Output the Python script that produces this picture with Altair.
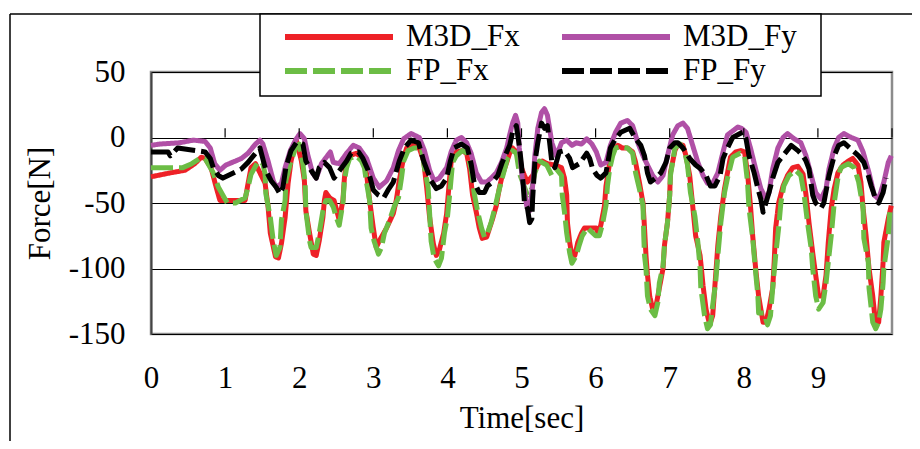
import altair as alt
import pandas as pd

# ---- data (time [sec], force [N]) ----
m3d_fx = [(0.00,-30),(0.26,-27),(0.46,-25),(0.59,-20),(0.68,-15),(0.73,-16),(0.81,-23),(0.88,-38),(0.93,-48),(1.11,-48),(1.27,-48),(1.31,-35),(1.35,-23),(1.41,-20),(1.54,-35),(1.58,-53),(1.61,-73),(1.68,-91),(1.72,-92),(1.76,-81),(1.81,-61),(1.85,-35),(1.89,-18),(1.96,-2),(2.03,-18),(2.07,-33),(2.09,-56),(2.14,-73),(2.19,-89),(2.23,-90),(2.27,-79),(2.32,-61),(2.34,-48),(2.36,-42),(2.41,-46),(2.47,-48),(2.54,-63),(2.59,-48),(2.61,-31),(2.64,-18),(2.68,-14),(2.77,-12),(2.86,-16),(2.91,-28),(2.95,-48),(3.00,-69),(3.04,-84),(3.08,-79),(3.18,-69),(3.27,-58),(3.31,-48),(3.35,-33),(3.41,-15),(3.45,-8),(3.54,-6),(3.62,-8),(3.68,-18),(3.72,-38),(3.76,-61),(3.81,-81),(3.85,-90),(3.89,-86),(3.95,-73),(3.99,-58),(4.03,-31),(4.05,-19),(4.12,-11),(4.19,-10),(4.26,-12),(4.30,-24),(4.34,-44),(4.39,-57),(4.43,-69),(4.47,-77),(4.53,-76),(4.57,-69),(4.61,-62),(4.66,-52),(4.70,-39),(4.74,-29),(4.80,-19),(4.84,-12),(4.88,-8),(4.93,-11),(4.97,-19),(5.04,-29),(5.08,-34),(5.15,-29),(5.24,-19),(5.28,-18),(5.35,-20),(5.45,-21),(5.54,-23),(5.58,-31),(5.61,-44),(5.62,-65),(5.65,-80),(5.68,-90),(5.72,-90),(5.76,-80),(5.81,-73),(5.85,-69),(5.95,-69),(6.01,-69),(6.03,-73),(6.07,-67),(6.12,-52),(6.14,-37),(6.19,-19),(6.23,-10),(6.30,-6),(6.36,-8),(6.43,-8),(6.50,-11),(6.54,-19),(6.59,-34),(6.64,-50),(6.66,-69),(6.68,-90),(6.70,-105),(6.73,-121),(6.77,-131),(6.81,-130),(6.86,-115),(6.91,-100),(6.93,-82),(6.97,-65),(7.00,-44),(7.01,-27),(7.07,-10),(7.11,-5),(7.18,-6),(7.22,-14),(7.27,-29),(7.31,-52),(7.35,-75),(7.41,-90),(7.45,-113),(7.49,-131),(7.54,-143),(7.58,-136),(7.61,-113),(7.65,-82),(7.69,-60),(7.74,-39),(7.78,-27),(7.82,-15),(7.89,-11),(7.96,-10),(8.01,-11),(8.05,-27),(8.09,-52),(8.12,-75),(8.16,-100),(8.20,-121),(8.26,-141),(8.30,-141),(8.34,-131),(8.39,-115),(8.41,-95),(8.43,-69),(8.47,-50),(8.53,-37),(8.59,-29),(8.66,-23),(8.73,-22),(8.80,-28),(8.84,-44),(8.88,-65),(8.93,-88),(8.97,-105),(9.01,-121),(9.07,-121),(9.11,-105),(9.14,-80),(9.18,-54),(9.22,-39),(9.27,-27),(9.34,-21),(9.41,-18),(9.47,-16),(9.54,-21),(9.58,-34),(9.61,-54),(9.65,-75),(9.69,-100),(9.74,-121),(9.78,-143),(9.82,-141),(9.85,-121),(9.88,-95),(9.89,-80),(9.95,-62),(9.99,-52)]

fp_fx = [(0.00,-23),(0.43,-23),(0.55,-20),(0.66,-16),(0.73,-16),(0.84,-27),(0.91,-38),(1.03,-50),(1.14,-50),(1.27,-46),(1.31,-38),(1.35,-28),(1.45,-18),(1.51,-20),(1.54,-28),(1.55,-43),(1.61,-61),(1.65,-79),(1.69,-90),(1.74,-84),(1.76,-63),(1.81,-48),(1.82,-33),(1.88,-20),(1.95,-8),(2.00,-5),(2.05,-20),(2.08,-35),(2.09,-56),(2.14,-79),(2.16,-84),(2.23,-84),(2.27,-73),(2.32,-56),(2.36,-48),(2.41,-48),(2.46,-53),(2.50,-61),(2.54,-67),(2.59,-50),(2.61,-33),(2.64,-23),(2.68,-16),(2.77,-14),(2.84,-18),(2.88,-23),(2.91,-35),(2.95,-48),(2.97,-69),(3.01,-79),(3.07,-89),(3.11,-84),(3.15,-73),(3.22,-63),(3.28,-53),(3.34,-46),(3.38,-31),(3.41,-18),(3.47,-10),(3.55,-8),(3.65,-8),(3.69,-23),(3.74,-38),(3.76,-58),(3.78,-79),(3.82,-92),(3.88,-98),(3.92,-92),(3.96,-73),(4.00,-61),(4.03,-44),(4.07,-19),(4.12,-14),(4.20,-10),(4.27,-12),(4.32,-24),(4.36,-42),(4.41,-57),(4.46,-69),(4.50,-76),(4.54,-73),(4.59,-65),(4.64,-54),(4.68,-44),(4.74,-31),(4.81,-16),(4.88,-10),(4.93,-12),(4.97,-27),(5.08,-44),(5.14,-39),(5.18,-27),(5.24,-18),(5.34,-21),(5.41,-29),(5.47,-24),(5.54,-29),(5.55,-44),(5.58,-57),(5.61,-73),(5.65,-88),(5.68,-96),(5.74,-90),(5.78,-82),(5.82,-75),(5.89,-69),(6.00,-75),(6.05,-75),(6.09,-67),(6.14,-52),(6.16,-37),(6.19,-24),(6.23,-14),(6.27,-8),(6.34,-7),(6.43,-8),(6.50,-12),(6.54,-27),(6.59,-39),(6.64,-52),(6.65,-75),(6.66,-90),(6.68,-100),(6.70,-121),(6.74,-131),(6.80,-136),(6.84,-126),(6.86,-111),(6.91,-98),(6.93,-82),(6.97,-65),(7.00,-44),(7.01,-29),(7.07,-8),(7.14,-5),(7.20,-10),(7.24,-21),(7.28,-42),(7.34,-60),(7.38,-80),(7.41,-100),(7.42,-115),(7.47,-136),(7.51,-146),(7.55,-143),(7.58,-128),(7.62,-111),(7.65,-90),(7.69,-65),(7.74,-42),(7.78,-31),(7.85,-15),(7.95,-12),(8.01,-14),(8.05,-34),(8.07,-54),(8.12,-77),(8.16,-103),(8.19,-121),(8.20,-134),(8.27,-134),(8.32,-143),(8.36,-136),(8.39,-115),(8.43,-90),(8.47,-69),(8.50,-50),(8.54,-37),(8.61,-29),(8.70,-25),(8.77,-29),(8.81,-42),(8.86,-65),(8.91,-85),(8.93,-100),(8.97,-121),(9.01,-131),(9.07,-126),(9.11,-111),(9.15,-90),(9.18,-75),(9.22,-50),(9.27,-31),(9.31,-23),(9.41,-20),(9.49,-23),(9.55,-34),(9.61,-54),(9.62,-77),(9.68,-95),(9.69,-115),(9.74,-141),(9.78,-146),(9.82,-141),(9.85,-131),(9.88,-111),(9.89,-100),(9.95,-75),(9.97,-57)]

m3d_fy = [(0.00,-6),(0.12,-5),(0.39,-4),(0.57,-2),(0.73,-3),(0.80,-8),(0.86,-20),(0.93,-25),(1.01,-21),(1.14,-18),(1.22,-16),(1.31,-12),(1.41,-5),(1.47,-2),(1.51,-5),(1.58,-18),(1.65,-33),(1.69,-38),(1.76,-35),(1.81,-23),(1.88,-10),(1.95,-2),(2.01,3),(2.07,-1),(2.11,-12),(2.18,-27),(2.23,-31),(2.30,-20),(2.42,-11),(2.46,-19),(2.54,-20),(2.64,-12),(2.73,-6),(2.81,-8),(2.91,-16),(3.00,-31),(3.08,-38),(3.18,-33),(3.27,-23),(3.34,-10),(3.41,-1),(3.51,3),(3.62,0),(3.69,-10),(3.76,-25),(3.82,-33),(3.89,-31),(3.99,-23),(4.05,-11),(4.12,-2),(4.19,0),(4.26,-4),(4.32,-12),(4.39,-27),(4.46,-34),(4.53,-34),(4.59,-31),(4.66,-27),(4.73,-19),(4.80,-8),(4.84,2),(4.88,11),(4.92,17),(4.95,11),(4.97,-8),(5.01,-31),(5.07,-52),(5.11,-56),(5.15,-37),(5.18,-14),(5.22,7),(5.27,19),(5.31,22),(5.35,17),(5.41,-4),(5.47,-14),(5.54,-4),(5.61,-2),(5.68,-6),(5.74,-4),(5.81,-5),(5.88,-1),(5.95,-5),(6.01,-11),(6.07,-21),(6.14,-19),(6.20,-6),(6.27,4),(6.34,11),(6.43,13),(6.50,9),(6.57,-4),(6.64,-14),(6.70,-21),(6.77,-29),(6.84,-34),(6.91,-29),(6.97,-14),(7.04,2),(7.11,9),(7.18,11),(7.24,7),(7.31,-6),(7.38,-19),(7.45,-29),(7.51,-35),(7.58,-35),(7.65,-27),(7.72,-11),(7.78,2),(7.85,5),(7.92,8),(7.97,7),(8.03,4),(8.09,-8),(8.16,-24),(8.23,-39),(8.30,-47),(8.34,-42),(8.39,-24),(8.46,-8),(8.53,0),(8.59,3),(8.68,-1),(8.77,-4),(8.84,-14),(8.91,-29),(8.97,-42),(9.04,-47),(9.11,-39),(9.15,-24),(9.22,-8),(9.28,0),(9.35,3),(9.45,0),(9.54,-2),(9.61,-11),(9.69,-27),(9.76,-44),(9.82,-47),(9.89,-34),(9.95,-19),(9.99,-14)]

fp_fy = [(0.00,-11),(0.23,-11),(0.26,-14),(0.36,-8),(0.73,-11),(0.80,-16),(0.84,-23),(0.91,-29),(0.97,-31),(1.22,-24),(1.31,-19),(1.41,-12),(1.47,-8),(1.55,-25),(1.62,-33),(1.69,-38),(1.74,-43),(1.78,-38),(1.82,-23),(1.89,-10),(1.96,-4),(2.05,-5),(2.09,-18),(2.16,-25),(2.23,-31),(2.27,-23),(2.34,-19),(2.41,-23),(2.47,-31),(2.64,-18),(2.70,-12),(2.80,-11),(2.86,-16),(2.93,-25),(3.00,-40),(3.07,-44),(3.14,-46),(3.20,-40),(3.27,-34),(3.35,-18),(3.42,-8),(3.51,-2),(3.61,-4),(3.68,-18),(3.74,-27),(3.78,-33),(3.85,-39),(3.92,-37),(3.99,-31),(4.04,-18),(4.09,-8),(4.19,-5),(4.27,-8),(4.32,-20),(4.36,-34),(4.43,-42),(4.50,-42),(4.54,-37),(4.61,-34),(4.68,-29),(4.74,-19),(4.84,-6),(4.88,4),(4.93,9),(4.97,-6),(5.00,-21),(5.02,-34),(5.04,-50),(5.08,-54),(5.11,-65),(5.14,-62),(5.15,-47),(5.18,-19),(5.22,-4),(5.27,11),(5.31,7),(5.35,9),(5.38,-4),(5.41,-19),(5.45,-23),(5.51,-11),(5.58,-10),(5.65,-16),(5.69,-23),(5.78,-20),(5.88,-12),(5.92,-16),(5.96,-24),(6.02,-29),(6.07,-31),(6.14,-27),(6.20,-8),(6.27,-1),(6.34,4),(6.46,7),(6.54,-1),(6.61,-6),(6.66,-14),(6.70,-27),(6.74,-34),(6.81,-31),(6.88,-27),(6.95,-19),(7.00,-8),(7.07,-4),(7.11,-4),(7.18,-8),(7.27,-16),(7.35,-21),(7.42,-24),(7.49,-29),(7.55,-37),(7.61,-37),(7.68,-29),(7.72,-16),(7.78,-8),(7.85,0),(7.95,3),(7.99,4),(8.03,-1),(8.07,-14),(8.14,-27),(8.19,-39),(8.23,-47),(8.26,-57),(8.34,-42),(8.39,-31),(8.46,-19),(8.50,-16),(8.64,-6),(8.73,-10),(8.80,-14),(8.84,-18),(8.88,-24),(8.93,-44),(8.97,-50),(9.04,-54),(9.08,-50),(9.15,-29),(9.22,-14),(9.28,-6),(9.35,-4),(9.55,-14),(9.62,-19),(9.68,-29),(9.72,-37),(9.78,-47),(9.82,-50),(9.88,-42),(9.92,-31)]

series_names = ["M3D_Fx", "M3D_Fy", "FP_Fx", "FP_Fy"]      # legend order (row by row)
series_colors = ["#EE2127", "#B050A6", "#6CBD45", "#000000"]
series_dash = [[1, 0], [1, 0], [22, 6], [22, 6]]
draw_order = ["M3D_Fx", "FP_Fx", "M3D_Fy", "FP_Fy"]
series_data = {"M3D_Fx": m3d_fx, "FP_Fx": fp_fx, "M3D_Fy": m3d_fy, "FP_Fy": fp_fy}

x_tick_values = [0, 1, 2, 3, 4, 5, 6, 7, 8, 9]
y_tick_values = [-150, -100, -50, 0, 50]
axis_tick_marks = [1, 2, 3, 4, 5, 6, 7, 8, 9, 10]

rows = []
for name in draw_order:
    for t, f in series_data[name]:
        rows.append({"series": name, "t": t, "F": f})
df = pd.DataFrame(rows)

FONT = "Liberation Serif"

x_enc = alt.X("t:Q", scale=alt.Scale(domain=[0, 10], nice=False),
              axis=alt.Axis(values=x_tick_values, title="Time[sec]", grid=False,
                            domain=False, ticks=False, labelPadding=29,
                            titlePadding=10, labelFlush=False,
                            labelExpr="'' + datum.value"))
y_enc = alt.Y("F:Q", scale=alt.Scale(domain=[-150, 50], nice=False),
              axis=alt.Axis(values=y_tick_values, title="Force[N]", grid=True,
                            gridColor="#000000", gridWidth=1, ticks=False,
                            domainColor="#444444", domainWidth=2,
                            labelPadding=26, titlePadding=12,
                            labelExpr="'' + datum.value"))
color_enc = alt.Color("series:N", scale=alt.Scale(domain=series_names, range=series_colors),
                      legend=alt.Legend(title=None, values=series_names))
dash_enc = alt.StrokeDash("series:N", scale=alt.Scale(domain=series_names, range=series_dash),
                          legend=alt.Legend(title=None, values=series_names))

layers = []
for name in draw_order:
    layers.append(
        alt.Chart(df).transform_filter(alt.datum.series == name)
        .mark_line(strokeWidth=5, strokeJoin="round")
        .encode(x=x_enc, y=y_enc, color=color_enc, strokeDash=dash_enc,
                order=alt.Order("t:Q"))
    )

ticks_df = pd.DataFrame({"t": axis_tick_marks, "y0": [0] * len(axis_tick_marks),
                         "y1": [7] * len(axis_tick_marks)})
tick_layer = alt.Chart(ticks_df).mark_rule(color="#000000", strokeWidth=1.2).encode(
    x="t:Q", y="y0:Q", y2="y1:Q")

one = pd.DataFrame({"k": [0]})
border_left = alt.Chart(one).mark_rule(color="#000000", strokeWidth=1.5).encode(
    x=alt.value(-141), y=alt.value(-58), y2=alt.value(380))
border_top = alt.Chart(one).mark_rule(color="#000000", strokeWidth=1.5).encode(
    x=alt.value(-141), x2=alt.value(780), y=alt.value(-58))
legend_box = alt.Chart(one).mark_rect(fill="#FFFFFF", stroke="#000000", strokeWidth=1.5).encode(
    x=alt.value(109), x2=alt.value(670), y=alt.value(-58), y2=alt.value(24))

chart = alt.layer(*layers, tick_layer, border_left, border_top, legend_box).properties(
    width=741, height=262,
    autosize=alt.AutoSizeParams(type="none"),
    padding={"left": 143, "top": 64, "right": 20, "bottom": 107},
).configure_view(
    stroke="#8C8C8C", strokeWidth=2.5
).configure_axis(
    labelFont=FONT, titleFont=FONT, labelFontSize=31, titleFontSize=31,
    labelColor="#000000", titleColor="#000000", titleFontWeight="normal"
).configure_legend(
    orient="none", legendX=131, legendY=-52, columns=2, direction="horizontal",
    symbolType="stroke", symbolSize=11664, symbolStrokeWidth=6,
    clipHeight=34, rowPadding=-5, columnPadding=39,
    labelFont=FONT, labelFontSize=31, labelColor="#000000", labelOffset=10,
    padding=0
)

chart.save("out.html", embed_options={"renderer": "svg", "actions": False})
